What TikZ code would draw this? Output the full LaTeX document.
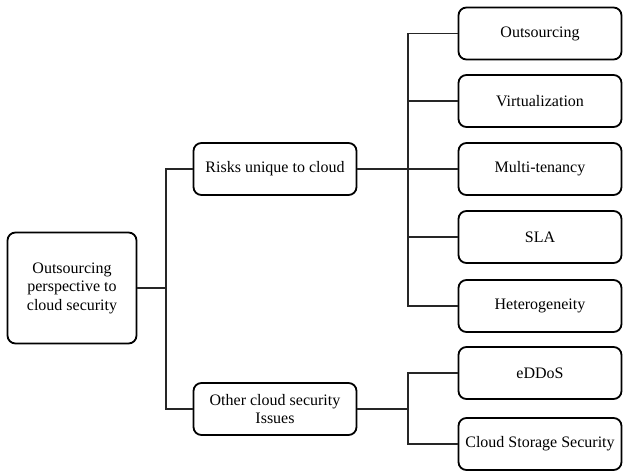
\documentclass[tikz,border=0pt]{standalone}
\usepackage{fontspec}
\setmainfont{Liberation Serif}
\begin{document}
\begin{tikzpicture}[x=1pt,y=-1pt,
  box/.style={draw=black, line width=1.8pt, rounded corners=8pt, fill=white,
    align=center, inner sep=2pt, font=\fontsize{16}{18.5}\selectfont},
  leaf/.style={box, minimum width=163pt, minimum height=52pt},
  link/.style={draw=black!85, line width=1.1pt}]
\useasboundingbox (0,0) rectangle (623,471);

% root and second level
\node[box, minimum width=129pt, minimum height=111pt] (root) at (72,288)
  {Outsourcing\\perspective to\\cloud security};
\node[leaf] (risks) at (275,169) {Risks unique to cloud};
\node[leaf] (other) at (275,409) {Other cloud security\\Issues};

% leaves
\node[leaf] (b1) at (540,33.5) {Outsourcing};
\node[leaf] (b2) at (540,101) {Virtualization};
\node[leaf] (b3) at (540,169) {Multi-tenancy};
\node[leaf] (b4) at (540,237) {SLA};
\node[leaf] (b5) at (540,306) {Heterogeneity};
\node[leaf] (b6) at (540,373) {eDDoS};
\node[leaf] (b7) at (540,444) {Cloud Storage Security};

% junction points
\coordinate (j1) at (166,288);
\coordinate (j2) at (408,169);
\coordinate (j3) at (408,409);

% connectors
\draw[link] (root.east) -- (j1);
\draw[link] (risks.west) -| (j1) |- (other.west);
\draw[link] (risks.east) -- (j2);
\draw[link] (b1.west) -| (j2) |- (b5.west);
\draw[link] (j2) -- (b3.west);
\draw[link] (b2.west) -- (b2.west -| j2);
\draw[link] (b4.west) -- (b4.west -| j2);
\draw[link] (other.east) -- (j3);
\draw[link] (b6.west) -| (j3) |- (b7.west);
\end{tikzpicture}
\end{document}
